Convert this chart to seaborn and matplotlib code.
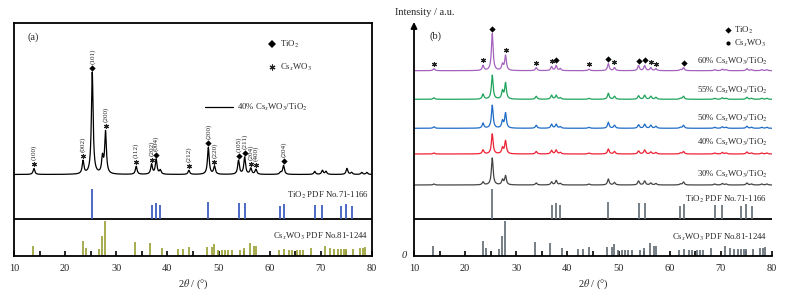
import numpy as np
import pandas as pd
import seaborn as sns
import matplotlib.pyplot as plt

sns.set_theme(style="white")
plt.rcParams['font.family'] = ['Liberation Serif', 'DejaVu Serif']
plt.rcParams['mathtext.fontset'] = 'stix'

# Peak positions (2theta, deg) shared by all measured patterns
peak_pos = [13.9, 23.5, 25.3, 27.3, 27.9, 33.9, 36.9, 37.8, 38.6, 44.2, 48.0, 49.2,
            53.9, 55.1, 56.3, 57.3, 62.1, 62.7, 68.8, 70.3, 71.0, 75.1, 76.0, 78.0, 79.0]

# Panel (a): 40% CsxWO3/TiO2 peak heights
h_a = [6, 13, 102, 16, 42, 8, 10, 15, 4, 4, 27, 8, 14, 17, 6, 5, 2, 9, 3, 4, 3, 6, 2, 2, 2]

# Panel (b): peak heights for each loading
samples = ['60%', '55%', '50%', '40%', '30%']
h_60 = [2, 5, 37, 6, 15, 3, 4, 5, 2, 1.5, 7, 3, 5, 5, 3, 2, 1, 3, 1, 1.5, 1, 2, 1, 1, 1]
h_55 = [1.5, 5, 24, 8, 16, 3, 4, 4, 1.5, 1, 6, 3, 3.5, 4, 3, 2, 1, 3, 1, 1.5, 1, 2, 1, 1, 1]
h_50 = [1.5, 5, 23, 7, 15, 3, 4, 4, 1.5, 1, 6, 3, 3.5, 4, 3, 2, 1, 3, 1, 1.5, 1, 2, 1, 1, 1]
h_40 = [1, 4, 20, 6, 13, 2.5, 3.5, 4, 1.5, 1, 5, 2.5, 3, 4, 2, 1.5, 1, 2.5, 1, 1.5, 1, 2, 1, 1, 1]
h_30 = [1, 3, 27, 5, 9, 2, 3, 4.5, 1.5, 1, 6, 2.5, 4, 4, 2, 1.5, 1, 3, 1, 1.5, 1, 2, 1, 1, 1]

# Reference cards
tio2_pos = [25.3, 36.9, 37.8, 38.6, 48.0, 53.9, 55.1, 62.1, 62.7, 68.8, 70.3, 74.0, 75.0, 76.0]
tio2_h = [30, 14.5, 16.5, 14.5, 17.5, 16, 16, 13.5, 15, 14, 14, 13.5, 15, 13.5]
cs_pos = [13.8, 23.4, 24.0, 26.7, 27.2, 27.8, 33.7, 36.6, 38.9, 42.1, 43.1, 44.2, 47.7, 48.7,
          49.1, 49.9, 50.6, 51.2, 51.9, 52.6, 54.1, 55.0, 56.1, 57.0, 57.3, 61.9, 62.7, 63.7,
          64.3, 65.4, 65.9, 66.6, 68.1, 70.9, 71.7, 72.6, 73.4, 74.0, 74.6, 74.9, 76.3, 77.7,
          78.3, 78.7]
cs_h = [10, 15, 8, 7, 20, 35, 14, 13, 8, 7, 7, 9, 9, 9,
        12, 6, 6, 6, 6, 6, 6, 8, 13, 10, 10, 6, 7, 6,
        6, 6, 6, 6, 8, 10, 8, 7, 7, 7, 7, 7, 7, 8,
        8, 9]

# Peak annotations
ann_pos = [13.9, 23.5, 25.3, 27.9, 33.9, 36.9, 37.8, 44.2, 48.0, 49.2, 53.9, 55.1, 56.3, 57.3, 62.7]
ann_phase = ['C', 'C', 'T', 'C', 'C', 'C', 'T', 'C', 'T', 'C', 'T', 'T', 'C', 'C', 'T']
ann_hkl = ['(100)', '(002)', '(101)', '(200)', '(112)', '(202)', '(004)', '(212)', '(200)',
           '(220)', '(105)', '(211)', '(204)', '(400)', '(204)']

tt = np.linspace(10, 80, 3500)
hw = 0.2


def pattern(heights, base):
    y = np.full_like(tt, base)
    for p, h in zip(peak_pos, heights):
        y += h * hw ** 2 / ((tt - p) ** 2 + hw ** 2)
    return y


def put_marker(ax, x, y, phase, ms_d=3.2, ms_s=3.6):
    if phase == 'T':
        ax.plot(x, y, marker='D', ms=ms_d, color='black', mew=0, clip_on=False)
    else:
        ax.plot(x, y, marker=(6, 2, 0), ms=ms_s, color='#222222', mew=0.8, clip_on=False)


def x_axis(ax):
    ax.set_xlim(10, 80)
    ax.set_xticks(range(10, 81, 10))
    ax.set_xticks(range(15, 80, 10), minor=True)
    ax.tick_params(axis='x', which='both', direction='in', length=3.5, width=1.4,
                   labelsize=7.5, pad=6, bottom=True)
    ax.set_yticks([])
    ax.set_xlabel(r'2$\theta$ / (°)', fontsize=7.5, labelpad=3)


lab = r'Cs$_x$WO$_3$/TiO$_2$'

fig = plt.figure(figsize=(7.87, 2.96), dpi=100)

# ---------------- panel (a)
ax = fig.add_axes([14 / 787, 40 / 296, 358 / 787, 233 / 296])
x_axis(ax)
ax.set_ylim(0, 233)
for s in ax.spines.values():
    s.set_linewidth(1.3)
    s.set_color('black')
ax.axhline(37, color='black', lw=1.3)

base_a = 81.5
ya = pattern(h_a, base_a)
sns.lineplot(x=tt, y=ya, ax=ax, color='black', lw=0.9, estimator=None, sort=False)
ax.vlines(tio2_pos, 37, 37 + np.array(tio2_h), color='#3f5fc2', lw=1.3)
ax.vlines(cs_pos, 0, cs_h, color='#a1a640', lw=1.3)

for p, ph, hkl in zip(ann_pos, ann_phase, ann_hkl):
    yp = np.interp(p, tt, ya)
    put_marker(ax, p, yp + 4, ph)
    ax.text(p, yp + 8, hkl, rotation=90, ha='center', va='bottom', fontsize=5.2)

ax.text(12.7, 219, '(a)', fontsize=7.5, va='center')
ax.text(79.3, 61, 'TiO$_2$ PDF No.71-1166', fontsize=6.3, ha='right', va='center')
ax.text(79.3, 19.5, 'Cs$_x$WO$_3$ PDF No.81-1244', fontsize=6.3, ha='right', va='center')

put_marker(ax, 60.4, 212, 'T', ms_d=4.2)
ax.text(62.0, 212, 'TiO$_2$', fontsize=6.3, va='center')
put_marker(ax, 60.4, 189, 'C', ms_s=4.2)
ax.text(62.0, 189, 'Cs$_x$WO$_3$', fontsize=6.3, va='center')
ax.plot([47.4, 52.8], [149, 149], color='black', lw=0.9)
ax.text(53.6, 149, '40% ' + lab, fontsize=6.3, va='center')

# ---------------- panel (b)
bx = fig.add_axes([414 / 787, 40 / 296, 358 / 787, 234 / 296])
x_axis(bx)
bx.set_ylim(0, 234)
for k in ['top', 'right', 'left']:
    bx.spines[k].set_visible(False)
bx.spines['bottom'].set_linewidth(1.3)
bx.spines['bottom'].set_color('black')
bx.axhline(37, color='black', lw=1.3)
bx.annotate('', xy=(0, 1), xytext=(0, 0), xycoords='axes fraction',
            arrowprops=dict(arrowstyle='-|>', lw=1.3, color='black', mutation_scale=9,
                            shrinkA=0, shrinkB=0))

heights_b = [h_60, h_55, h_50, h_40, h_30]
bases_b = [185.3, 156.7, 127.7, 102, 71]
colors_b = ['#a463bd', '#1ea35b', '#1f6cc6', '#ec2236', '#454545']
label_y = [195, 166, 137.5, 114, 81.5]
curves = []
for name, hs, b, c, ly in zip(samples, heights_b, bases_b, colors_b, label_y):
    yb = pattern(hs, b)
    curves.append(yb)
    sns.lineplot(x=tt, y=yb, ax=bx, color=c, lw=0.9, estimator=None, sort=False)
    bx.text(79.1, ly, name + ' ' + lab, fontsize=6.3, ha='right', va='center')

bx.vlines(tio2_pos, 37, 37 + np.array(tio2_h), color='#6b757d', lw=1.3)
bx.vlines(cs_pos, 0, cs_h, color='#6b757d', lw=1.3)
bx.text(79.1, 56.5, 'TiO$_2$ PDF No.71-1166', fontsize=6.3, ha='right', va='center')
bx.text(79.1, 19, 'Cs$_x$WO$_3$ PDF No.81-1244', fontsize=6.3, ha='right', va='center')

for p, ph in zip(ann_pos, ann_phase):
    yp = np.interp(p, tt, curves[0])
    put_marker(bx, p, yp + 5, ph, ms_d=3.2, ms_s=3.6)

put_marker(bx, 71.4, 226, 'T', ms_d=3.2)
bx.text(72.5, 226, 'TiO$_2$', fontsize=6.3, va='center')
bx.plot(71.4, 213, marker='o', ms=2, color='black', clip_on=False)
bx.text(72.5, 213, 'Cs$_x$WO$_3$', fontsize=6.3, va='center')
bx.text(13.1, 220, '(b)', fontsize=7.5, va='center')
bx.text(-0.052, 1.04, 'Intensity / a.u.', transform=bx.transAxes, fontsize=7.5, va='center')
bx.text(-0.02, 0.0, '0', transform=bx.transAxes, fontsize=7.5, style='italic',
        ha='right', va='center')

fig.savefig('out.png', dpi=100)
